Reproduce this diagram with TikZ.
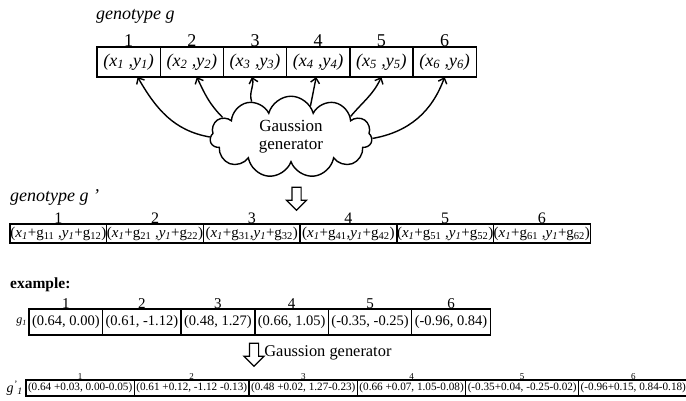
\documentclass[tikz,border=0pt]{standalone}
\usepackage{fontspec}
\setmainfont{Liberation Serif}
\usetikzlibrary{arrows.meta,positioning,shapes.symbols,shapes.arrows}
\newcommand{\pxy}[1]{\textit{(x\textsubscript{#1} ,y\textsubscript{#1})}}
\newcommand{\mxy}[3]{(\textit{x\textsubscript{1}}+g\textsubscript{#1}#3,\textit{y\textsubscript{1}}+g\textsubscript{#2})}
\tikzset{
 genecell/.style={
 rectangle,
 draw,
 line width=1.4pt,
 outer sep=0pt,
 inner sep=0pt,
 minimum width=63.2pt,
 minimum height=30pt,
 label distance=5pt,
 font=\fontsize{18}{20}\selectfont
 },
 mutcell/.style={
 genecell,
 minimum width=96.7pt,
 minimum height=19pt,
 font=\fontsize{15}{17}\selectfont
 },
 excell/.style={
 genecell,
 minimum width=0pt,
 inner xsep=3pt,
 minimum height=26pt,
 label distance=3.5pt,
 font=\fontsize{14.5}{16}\selectfont
 },
 exmutcell/.style={
 genecell,
 minimum width=0pt,
 inner xsep=2pt,
 minimum height=16pt,
 label distance=2.5pt,
 font=\fontsize{11.2}{12}\selectfont
 },
 numA/.style={inner sep=0pt, font=\fontsize{18}{20}\selectfont},
 numB/.style={inner sep=0pt, font=\fontsize{16}{18}\selectfont},
 numC/.style={inner sep=0pt, font=\fontsize{15}{17}\selectfont},
 numD/.style={inner sep=0pt, font=\fontsize{9}{10}\selectfont},
 rowtitle/.style={inner sep=0pt, anchor=west, font=\fontsize{18}{20}\selectfont\itshape},
 gencloud/.style={
 cloud,
 draw,
 line width=1.4pt,
 cloud puffs=11,
 aspect=2.3,
 minimum width=162pt,
 minimum height=69pt,
 align=center,
 font=\fontsize{17}{18}\selectfont
 },
 genarrow/.style={-{Straight Barb[length=5pt,width=9pt]}, line width=1.4pt},
 hollowarrow/.style={
 single arrow,
 draw,
 fill=white,
 line width=1.2pt,
 inner sep=4pt,
 minimum height=23pt,
 single arrow head extend=5.5pt,
 shape border rotate=270
 }
}

\begin{document}
\begin{tikzpicture}[x=1pt,y=1pt]
 \useasboundingbox[fill=white] (0,0) rectangle (686,-401);

 % genotype g
 \node[rowtitle] (origtitle) at (96,-16) {genotype g};
 \node[genecell, anchor=west, label={[numA]above:1}] (orig1) at (97,-62) {\pxy{1}};
 \node[genecell, right=0pt of orig1, label={[numA]above:2}] (orig2) {\pxy{2}};
 \node[genecell, right=0pt of orig2, label={[numA]above:3}] (orig3) {\pxy{3}};
 \node[genecell, right=0pt of orig3, label={[numA]above:4}] (orig4) {\pxy{4}};
 \node[genecell, right=0pt of orig4, label={[numA]above:5}] (orig5) {\pxy{5}};
 \node[genecell, right=0pt of orig5, label={[numA]above:6}] (orig6) {\pxy{6}};

 \node[gencloud] (gauss) at (291,-137) {Gaussion\\generator};

 \draw[genarrow] (gauss.180) to[out=170, in=-60] ([xshift=9pt]orig1.south);
 \draw[genarrow] (gauss.164) to[out=135, in=-65] ([xshift=5pt]orig2.south);
 \draw[genarrow] (gauss.138) to[out=110, in=-75] ([xshift=-3pt]orig3.south);
 \draw[genarrow] (gauss.58) -- ([xshift=-2pt]orig4.south);
 \draw[genarrow] (gauss.19) to[out=50, in=-115] (orig5.south);
 \draw[genarrow] (gauss.-1) to[out=10, in=-110] (orig6.south);

 \node[hollowarrow] (down1) at (296.5,-196.5) {};

 % genotype g'
 \node[rowtitle] (muttitle) at (10,-197) {genotype g ’};
 \node[mutcell, anchor=west, label={[numB]above:1}] (mut1) at (10,-233.5) {\mxy{11}{12}{ }};
 \node[mutcell, right=0pt of mut1, label={[numB]above:2}] (mut2) {\mxy{21}{22}{ }};
 \node[mutcell, right=0pt of mut2, label={[numB]above:3}] (mut3) {\mxy{31}{32}{}};
 \node[mutcell, right=0pt of mut3, label={[numB]above:4}] (mut4) {\mxy{41}{42}{}};
 \node[mutcell, right=0pt of mut4, label={[numB]above:5}] (mut5) {\mxy{51}{52}{ }};
 \node[mutcell, right=0pt of mut5, label={[numB]above:6}] (mut6) {\mxy{61}{62}{ }};

 % example
 \node[rowtitle, font=\fontsize{15.5}{17}\selectfont\bfseries] (extitle) at (10,-285) {example:};
 \node[excell, anchor=west, label={[numC]above:1}] (ex1) at (29,-322) {(0.64, 0.00)};
 \node[excell, right=0pt of ex1, label={[numC]above:2}] (ex2) {(0.61, -1.12)};
 \node[excell, right=0pt of ex2, label={[numC]above:3}] (ex3) {(0.48, 1.27)};
 \node[excell, right=0pt of ex3, label={[numC]above:4}] (ex4) {(0.66, 1.05)};
 \node[excell, right=0pt of ex4, label={[numC]above:5}] (ex5) {(-0.35, -0.25)};
 \node[excell, right=0pt of ex5, label={[numC]above:6}] (ex6) {(-0.96, 0.84)};
 \node[left=2pt of ex1, inner sep=0pt, font=\fontsize{12}{13}\selectfont\itshape] (exlabel) {g\textsubscript{1}};

 \node[hollowarrow] (down2) at (254,-352.5) {};
 \node[right=5pt of down2, inner sep=0pt, font=\fontsize{16.4}{18}\selectfont] (downtext) {Gaussion generator};

 \node[exmutcell, anchor=west, label={[numD]above:1}] (exmut1) at (26,-388) {(0.64 +0.03, 0.00-0.05)};
 \node[exmutcell, right=0pt of exmut1, label={[numD]above:2}] (exmut2) {(0.61 +0.12, -1.12 -0.13)};
 \node[exmutcell, right=0pt of exmut2, label={[numD]above:3}] (exmut3) {(0.48 +0.02, 1.27-0.23)};
 \node[exmutcell, right=0pt of exmut3, label={[numD]above:4}] (exmut4) {(0.66 +0.07, 1.05-0.08)};
 \node[exmutcell, right=0pt of exmut4, label={[numD]above:5}] (exmut5) {(-0.35+0.04, -0.25-0.02)};
 \node[exmutcell, right=0pt of exmut5, label={[numD]above:6}] (exmut6) {(-0.96+0.15, 0.84-0.18)};
 \node[left=3pt of exmut1, inner sep=0pt, font=\fontsize{14}{15}\selectfont\itshape] (exmutlabel) {g\textsuperscript{’}\textsubscript{1}};
\end{tikzpicture}
\end{document}
